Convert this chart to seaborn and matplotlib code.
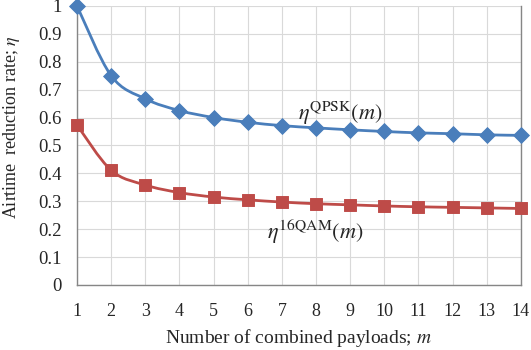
import numpy as np
import pandas as pd
import matplotlib
matplotlib.use("Agg")
import matplotlib.pyplot as plt
from matplotlib.path import Path
from matplotlib.patches import PathPatch
import seaborn as sns

# values
m_values = list(range(1, 15))
eta_qpsk = [1.0, 0.75, 0.667, 0.625, 0.60, 0.583, 0.571, 0.563, 0.556, 0.55, 0.545, 0.542, 0.538, 0.536]
eta_16qam = [0.573, 0.411, 0.358, 0.331, 0.315, 0.305, 0.297, 0.291, 0.287, 0.283, 0.280, 0.278, 0.276, 0.274]

blue = "#4A7EBB"
red = "#BE4B48"

sns.set_style("white")
plt.rcParams['font.family'] = ['Liberation Serif', 'DejaVu Serif']
plt.rcParams['mathtext.fontset'] = 'stix'

df = pd.DataFrame({'m': m_values, 'qpsk': eta_qpsk, 'qam': eta_16qam})


def smooth_path(x, y):
    # Excel-like smoothed line: Catmull-Rom segments drawn as cubic Bezier
    x = np.asarray(x, float)
    y = np.asarray(y, float)
    px = np.r_[x[0], x, x[-1]]
    py = np.r_[y[0], y, y[-1]]
    verts = [(x[0], y[0])]
    codes = [Path.MOVETO]
    for i in range(1, len(x)):
        c1 = (px[i] + (px[i + 1] - px[i - 1]) / 6, py[i] + (py[i + 1] - py[i - 1]) / 6)
        c2 = (px[i + 1] - (px[i + 2] - px[i]) / 6, py[i + 1] - (py[i + 2] - py[i]) / 6)
        verts += [c1, c2, (px[i + 1], py[i + 1])]
        codes += [Path.CURVE4] * 3
    return Path(verts, codes)


fig, ax = plt.subplots(figsize=(5.31, 3.5), dpi=100)
for col, color in [('qpsk', blue), ('qam', red)]:
    ax.add_patch(PathPatch(smooth_path(df['m'], df[col]), facecolor='none',
                           edgecolor=color, linewidth=2, clip_on=False, zorder=3))
sns.scatterplot(data=df, x='m', y='qpsk', ax=ax, color=blue, marker='D', s=65,
                edgecolor=blue, zorder=4, clip_on=False)
sns.scatterplot(data=df, x='m', y='qam', ax=ax, color=red, marker='s', s=70,
                edgecolor=red, zorder=4, clip_on=False)

ax.set_xlim(1, 14)
ax.set_ylim(0, 1)
ax.set_xticks(m_values)
ax.set_yticks(np.arange(0, 1.01, 0.1))
ax.set_yticklabels(['0', '0.1', '0.2', '0.3', '0.4', '0.5', '0.6', '0.7', '0.8', '0.9', '1'])
ax.grid(True, color='#d9d9d9', linewidth=0.8)
ax.set_axisbelow(True)
ax.spines['top'].set_visible(False)
for s in ['left', 'bottom', 'right']:
    ax.spines[s].set_color('#868686')
    ax.spines[s].set_linewidth(1)
ax.tick_params(axis='y', length=3, color='#868686', labelsize=13.5, pad=8)
ax.tick_params(axis='x', length=0, labelsize=13, pad=13)
ax.set_xlabel('Number of combined payloads; $m$', fontsize=14, labelpad=5)
ax.set_ylabel('Airtime  reduction rate; $\\eta$', fontsize=13)
ax.yaxis.set_label_coords(-0.124, 0.565)

ax.text(8.7, 0.615, '$\\eta^{\\mathrm{QPSK}}(m)$', fontsize=16, ha='center', va='center')
ax.text(7.97, 0.19, '$\\eta^{\\mathrm{16QAM}}(m)$', fontsize=16, ha='center', va='center')

fig.subplots_adjust(left=0.145, right=0.981, top=0.983, bottom=0.186)
fig.savefig("out.png", dpi=100)
